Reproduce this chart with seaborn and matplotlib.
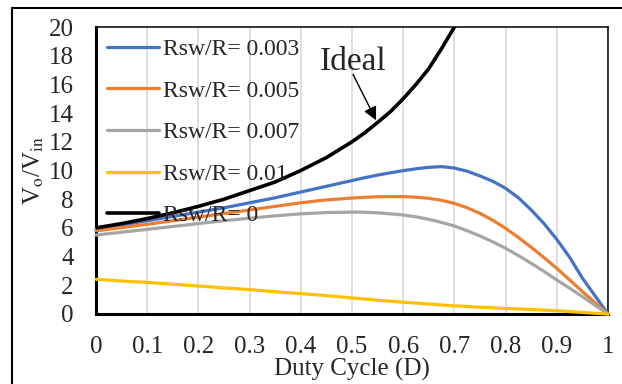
import numpy as np
import pandas as pd
import matplotlib
matplotlib.use("Agg")
import matplotlib.pyplot as plt
import seaborn as sns

# values
duty = [0.0, 0.05, 0.1, 0.15, 0.2, 0.25, 0.3, 0.35, 0.4, 0.45, 0.5,
        0.525, 0.55, 0.575, 0.6, 0.625, 0.65, 0.675, 0.7, 0.725, 0.75, 0.775, 0.8,
        0.825, 0.85, 0.875, 0.9, 0.925, 0.95, 0.975, 1.0]
gain_003 = [5.9, 6.2, 6.5, 6.8, 7.1, 7.4, 7.75, 8.1, 8.5, 8.9, 9.3,
            9.5, 9.68, 9.84, 9.99, 10.12, 10.22, 10.27, 10.17, 9.95, 9.62, 9.25, 8.76,
            8.1, 7.25, 6.3, 5.2, 3.95, 2.5, 1.25, 0.0]
gain_005 = [5.8, 6.02, 6.25, 6.5, 6.75, 7.0, 7.25, 7.5, 7.75, 7.95, 8.08,
            8.13, 8.17, 8.18, 8.18, 8.14, 8.06, 7.92, 7.71, 7.4, 7.01, 6.53, 5.97,
            5.33, 4.65, 3.93, 3.18, 2.38, 1.56, 0.78, 0.0]
gain_007 = [5.5, 5.7, 5.9, 6.1, 6.3, 6.5, 6.68, 6.84, 6.98, 7.07, 7.1,
            7.09, 7.05, 6.98, 6.9, 6.77, 6.6, 6.38, 6.13, 5.8, 5.44, 5.03, 4.58,
            4.07, 3.53, 2.97, 2.37, 1.8, 1.21, 0.6, 0.0]
gain_01 = [2.42, 2.3, 2.2, 2.08, 1.95, 1.82, 1.7, 1.55, 1.42, 1.28, 1.12,
           1.04, 0.96, 0.89, 0.82, 0.76, 0.7, 0.63, 0.57, 0.52, 0.47, 0.43, 0.39,
           0.35, 0.31, 0.27, 0.23, 0.17, 0.11, 0.05, 0.0]
gain_ideal = [6.0, 6.3, 6.65, 7.05, 7.5, 8.0, 8.6, 9.2, 10.0, 10.9, 12.0,
              12.63, 13.35, 14.1, 15.0, 16.0, 17.1, 18.5, 20.0, np.nan, np.nan, np.nan, np.nan,
              np.nan, np.nan, np.nan, np.nan, np.nan, np.nan, np.nan, np.nan]

labels = ["Rsw/R= 0.003", "Rsw/R= 0.005", "Rsw/R= 0.007", "Rsw/R= 0.01", "Rsw/R= 0"]
colors = ["#4472C4", "#ED7D31", "#A5A5A5", "#FFC000", "#000000"]
x_ticks = [0, 0.1, 0.2, 0.3, 0.4, 0.5, 0.6, 0.7, 0.8, 0.9, 1.0]
x_tick_labels = ["0", "0.1", "0.2", "0.3", "0.4", "0.5", "0.6", "0.7", "0.8", "0.9", "1"]
y_ticks = list(range(0, 21, 2))

sns.set_style("white")
plt.rcParams["font.family"] = ["Liberation Serif", "DejaVu Serif"]
plt.rcParams["mathtext.fontset"] = "stix"

fig = plt.figure(figsize=(6.22, 3.84), dpi=100)
ax = fig.add_axes([96 / 622, 1 - 314 / 384, 512 / 622, 287 / 384])

# figure frame (only top and left edges visible in the reference)
fig.add_artist(plt.Line2D([11.5 / 622, 1.0], [1 - 7.5 / 384] * 2, color="black", lw=1.5))
fig.add_artist(plt.Line2D([11.5 / 622] * 2, [0.0, 1 - 7.5 / 384], color="black", lw=1.5))

series = [gain_003, gain_005, gain_007, gain_01, gain_ideal]
for vals, lab, col in zip(series, labels, colors):
    df = pd.DataFrame({"D": duty, "gain": vals}).dropna()
    is_ideal = lab.endswith("= 0")
    sns.lineplot(data=df, x="D", y="gain", ax=ax, color=col, label=lab,
                 lw=2.6 if is_ideal else 2.3, zorder=3, clip_on=is_ideal)

ax.set_xlim(0, 1)
ax.set_ylim(0, 20)
ax.set_xticks(x_ticks)
ax.set_xticklabels(x_tick_labels)
ax.set_yticks(y_ticks)
ax.tick_params(axis="both", length=0, labelsize=18, pad=16)
ax.grid(axis="x", color="#D9D9D9", lw=1.2)
ax.grid(axis="y", visible=False)
for side in ["top", "right"]:
    ax.spines[side].set_linewidth(1.1)
    ax.spines[side].set_color("black")
for side in ["left", "bottom"]:
    ax.spines[side].set_linewidth(2.2)
    ax.spines[side].set_color("black")

ax.set_xlabel("Duty Cycle (D)", fontsize=18, labelpad=0)
ax.set_ylabel(r"V$_\mathrm{o}$/V$_\mathrm{in}$", fontsize=18, labelpad=2)

ax.legend(loc="upper left", bbox_to_anchor=(0.022, 0.96), frameon=False,
          fontsize=17, handlelength=2.2, handletextpad=0.15, labelspacing=0.85,
          borderpad=0, borderaxespad=0)

# "Ideal" callout with arrow pointing at the ideal curve
ax.text(0.502, 17.6, "Ideal", fontsize=24, ha="center", va="center")
ax.annotate("", xy=(0.547, 13.5), xytext=(0.502, 16.7),
            arrowprops=dict(arrowstyle="-|>", color="black", lw=1.0,
                            mutation_scale=20, shrinkA=0, shrinkB=0))

fig.savefig("out.png", dpi=100)
